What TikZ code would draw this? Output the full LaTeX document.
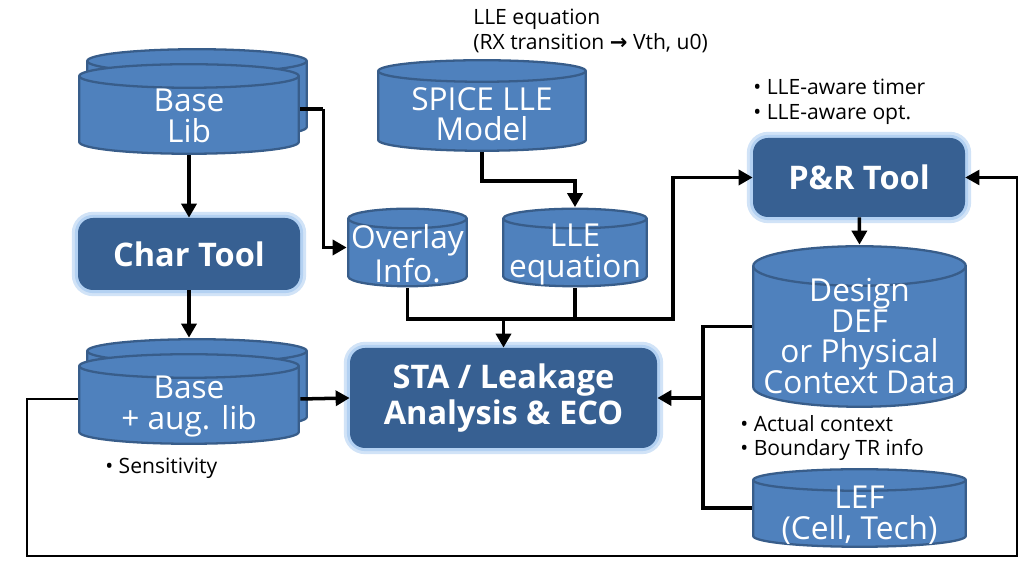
\documentclass[tikz,border=0pt]{standalone}
\usepackage{fontspec}
\setmainfont{Open Sans}
\newfontfamily\symfont{DejaVu Sans}
\usetikzlibrary{positioning,arrows.meta}
\definecolor{cylblue}{HTML}{4F81BD}
\definecolor{cylline}{HTML}{385D8A}
\definecolor{toolblue}{HTML}{376092}
\definecolor{glowblue}{HTML}{B3D1F2}
\newcommand{\dbgap}[1][21pt]{\rule{0pt}{#1}}
\tikzset{
  flowarrow/.style={-{Triangle[length=2.8mm, width=3mm]}, line width=2pt},
  flowline/.style={line width=2pt},
  loopline/.style={line width=1.3pt},
  dbry/.store in=\dbry, dbry=0.26cm,
  dbnode/.style 2 args={rectangle, inner sep=0pt, minimum width=#1, minimum height=#2,
    text=white, align=center, font=\fontsize{18}{17.5}\selectfont,
    path picture={
      \draw[cylline, fill=cylblue, line width=1.3pt]
        ([xshift=0.7pt, yshift=-\dbry]path picture bounding box.north west)
        -- ([xshift=0.7pt, yshift=\dbry]path picture bounding box.south west)
        arc[start angle=180, end angle=360, x radius={#1/2-0.7pt}, y radius={\dbry-0.7pt}]
        -- ([xshift=-0.7pt, yshift=-\dbry]path picture bounding box.north east)
        arc[start angle=0, end angle=180, x radius={#1/2-0.7pt}, y radius={\dbry-0.7pt}] -- cycle;
      \draw[cylline, line width=1.3pt]
        ([xshift=0.7pt, yshift=-\dbry]path picture bounding box.north west)
        arc[start angle=180, end angle=360, x radius={#1/2-0.7pt}, y radius={\dbry-0.7pt}];
    }},
  toolnode/.style={rounded corners=3mm, fill=toolblue, text=white, align=center,
    font=\bfseries\fontsize{18.5}{20.5}\selectfont,
    preaction={draw=glowblue!60, line width=7pt},
    preaction={draw=glowblue, line width=3.5pt}},
  notetext/.style={align=left, anchor=north west, inner sep=0pt, font=\fontsize{12}{14}\selectfont}
}

\begin{document}
\begin{tikzpicture}
  \useasboundingbox (0,0) rectangle (20.5,11.24);
  % library side
  \node[dbnode={4.44cm}{1.84cm}] (baselibback) at (3.94,9.36) {};
  \node[dbnode={4.44cm}{1.84cm}] (baselib) at (3.78,9.06) {\dbgap Base\\Lib};
  \node[toolnode, minimum width=4.44cm, minimum height=1.44cm] (chartool) at (3.78,6.16) {Char Tool};
  \node[dbnode={4.44cm}{1.84cm}] (auglibback) at (3.94,3.56) {};
  \node[dbnode={4.44cm}{1.84cm}] (auglib) at (3.78,3.26) {\dbgap Base\\+ aug. lib};
  \node[notetext] (sensnote) at (2.1,2.08) {\textbullet\ Sensitivity};
  % LLE model side
  \node[dbnode={4.2cm}{1.86cm}, dbry=0.24cm] (spice) at (9.64,9.13) {\dbgap[23pt]SPICE LLE\\Model};
  \node[notetext] (llenote) at (9.46,11.06) {LLE equation\\(RX transition {\symfont\bfseries →} Vth, u0)};
  \node[dbnode={2.42cm}{1.6cm}, dbry=0.22cm] (overlay) at (8.15,6.29) {\dbgap Overlay\\Info.};
  \node[dbnode={2.92cm}{1.6cm}, dbry=0.22cm] (lleeq) at (11.5,6.29) {\dbgap LLE\\equation};
  \node[toolnode, minimum width=6.14cm, minimum height=2.0cm] (sta) at (10.07,3.28) {STA / Leakage\\Analysis \& ECO};
  % physical side
  \node[toolnode, minimum width=4.24cm, minimum height=1.58cm] (prtool) at (17.18,7.69) {P\&R Tool};
  \node[notetext] (prnote) at (15.06,9.66) {\textbullet\ LLE-aware timer\\\textbullet\ LLE-aware opt.};
  \node[dbnode={4.3cm}{3.26cm}, dbry=0.42cm] (design) at (17.19,4.71) {\dbgap[24pt]Design\\DEF\\or Physical\\Context Data};
  \node[notetext] (ctxnote) at (14.8,2.94) {\textbullet\ Actual context\\\textbullet\ Boundary TR info};
  \node[dbnode={4.3cm}{1.6cm}, dbry=0.24cm] (lef) at (17.19,1.08) {\dbgap LEF\\(Cell, Tech)};
  \coordinate (merge) at (10.07,4.86);
  \coordinate (ctxbus) at (14.06,3.28);
  % connectors
  \draw[flowarrow] (baselib) -- (chartool);
  \draw[flowarrow] (chartool) -- (chartool.south |- auglibback.north);
  \draw[flowline] (baselib.east) -- ++(0.46,0) coordinate (libturn);
  \draw[flowarrow] (libturn) |- (overlay.west);
  \draw[flowarrow] (spice.south) |- (11.5,7.62) -- (lleeq.north);
  \draw[flowline] (overlay.south) |- (merge) -| (lleeq.south);
  \draw[flowarrow] (merge) -- (sta.north);
  \draw[flowarrow] (lleeq.south |- merge) -| (13.46,7.69) -- (prtool.west);
  \draw[flowarrow] (prtool) -- (design.north);
  \draw[flowline] (design.west) -| (ctxbus) |- (lef.west);
  \draw[flowarrow] (ctxbus) -- (sta.east);
  \draw[flowarrow] (auglib.east) -- (sta.west);
  \draw[loopline, -{Triangle[length=2.8mm, width=3mm]}] (auglib.west) -- (0.54,3.26) |- (20.34,0.12) |- (prtool.east);
\end{tikzpicture}
\end{document}
